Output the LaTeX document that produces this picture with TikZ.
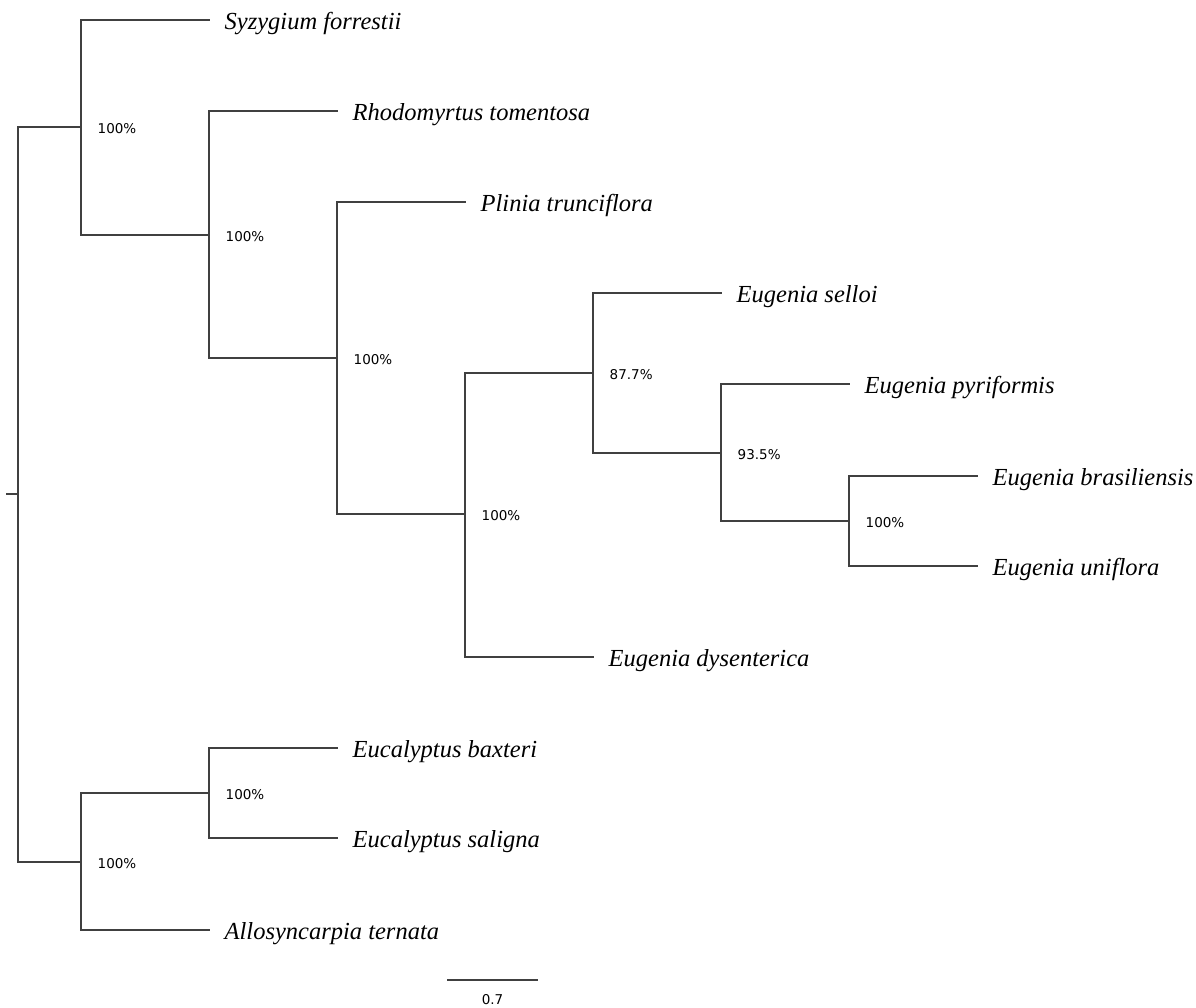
\documentclass[tikz,border=0pt]{standalone}
\usepackage{fontspec}
\newfontfamily\taxfont{Liberation Serif}
\newfontfamily\supfont{DejaVu Sans}
\begin{document}
\begin{tikzpicture}[x=1pt,y=-1pt,
  branch/.style={draw=black!75, line width=2pt, line cap=rect},
  taxon/.style={anchor=base west, inner sep=0pt, font=\taxfont\itshape\fontsize{24.5}{29}\selectfont},
  supp/.style={anchor=base west, inner sep=0pt, font=\supfont\fontsize{13.5}{16}\selectfont},
]
\useasboundingbox (0,0) rectangle (1196,1008);
% internal nodes
\coordinate (root) at (18,494);
\coordinate (stub) at (7,494);
\coordinate (A) at (81,127);
\coordinate (B) at (209,235);
\coordinate (C) at (337,358);
\coordinate (D) at (465,514);
\coordinate (E) at (593,373);
\coordinate (F) at (721,453);
\coordinate (G) at (849,521);
\coordinate (H) at (81,862);
\coordinate (I) at (209,793);
% leaf ends
\coordinate (syz) at (209,20);
\coordinate (rho) at (337,111);
\coordinate (pli) at (465,202);
\coordinate (sel) at (721,293);
\coordinate (pyr) at (849,384);
\coordinate (bra) at (977,476);
\coordinate (uni) at (977,566);
\coordinate (dys) at (593,657);
\coordinate (bax) at (337,748);
\coordinate (sal) at (337,838);
\coordinate (all) at (209,930);
% branches
\draw[branch] (stub) -- (root);
\draw[branch] (root) |- (A);
\draw[branch] (root) |- (H);
\draw[branch] (A) |- (syz);
\draw[branch] (A) |- (B);
\draw[branch] (B) |- (rho);
\draw[branch] (B) |- (C);
\draw[branch] (C) |- (pli);
\draw[branch] (C) |- (D);
\draw[branch] (D) |- (E);
\draw[branch] (D) |- (dys);
\draw[branch] (E) |- (sel);
\draw[branch] (E) |- (F);
\draw[branch] (F) |- (pyr);
\draw[branch] (F) |- (G);
\draw[branch] (G) |- (bra);
\draw[branch] (G) |- (uni);
\draw[branch] (H) |- (I);
\draw[branch] (H) |- (all);
\draw[branch] (I) |- (bax);
\draw[branch] (I) |- (sal);
% taxon labels
\node[taxon] (tsyz) at ([xshift=15.5pt,yshift=-9.3pt]syz) {Syzygium forrestii};
\node[taxon] (trho) at ([xshift=15.5pt,yshift=-9.3pt]rho) {Rhodomyrtus tomentosa};
\node[taxon] (tpli) at ([xshift=15.5pt,yshift=-9.3pt]pli) {Plinia trunciflora};
\node[taxon] (tsel) at ([xshift=15.5pt,yshift=-9.3pt]sel) {Eugenia selloi};
\node[taxon] (tpyr) at ([xshift=15.5pt,yshift=-9.3pt]pyr) {Eugenia pyriformis};
\node[taxon] (tbra) at ([xshift=15.5pt,yshift=-9.3pt]bra) {Eugenia brasiliensis};
\node[taxon] (tuni) at ([xshift=15.5pt,yshift=-9.3pt]uni) {Eugenia uniflora};
\node[taxon] (tdys) at ([xshift=15.5pt,yshift=-9.3pt]dys) {Eugenia dysenterica};
\node[taxon] (tbax) at ([xshift=15.5pt,yshift=-9.3pt]bax) {Eucalyptus baxteri};
\node[taxon] (tsal) at ([xshift=15.5pt,yshift=-9.3pt]sal) {Eucalyptus saligna};
\node[taxon] (tall) at ([xshift=15.5pt,yshift=-9.3pt]all) {Allosyncarpia ternata};
% support values
\node[supp] (sA) at ([xshift=16.5pt,yshift=-6.5pt]A) {100\%};
\node[supp] (sB) at ([xshift=16.5pt,yshift=-6.5pt]B) {100\%};
\node[supp] (sC) at ([xshift=16.5pt,yshift=-6.5pt]C) {100\%};
\node[supp] (sD) at ([xshift=16.5pt,yshift=-6.5pt]D) {100\%};
\node[supp] (sE) at ([xshift=16.5pt,yshift=-6.5pt]E) {87.7\%};
\node[supp] (sF) at ([xshift=16.5pt,yshift=-6.5pt]F) {93.5\%};
\node[supp] (sG) at ([xshift=16.5pt,yshift=-6.5pt]G) {100\%};
\node[supp] (sH) at ([xshift=16.5pt,yshift=-6.5pt]H) {100\%};
\node[supp] (sI) at ([xshift=16.5pt,yshift=-6.5pt]I) {100\%};
% scale bar
\coordinate (sb1) at (448,980);
\coordinate (sb2) at (537,980);
\draw[branch] (sb1) -- (sb2);
\node[supp, anchor=base] (sbl) at (492.5,1004) {0.7};
\end{tikzpicture}
\end{document}
